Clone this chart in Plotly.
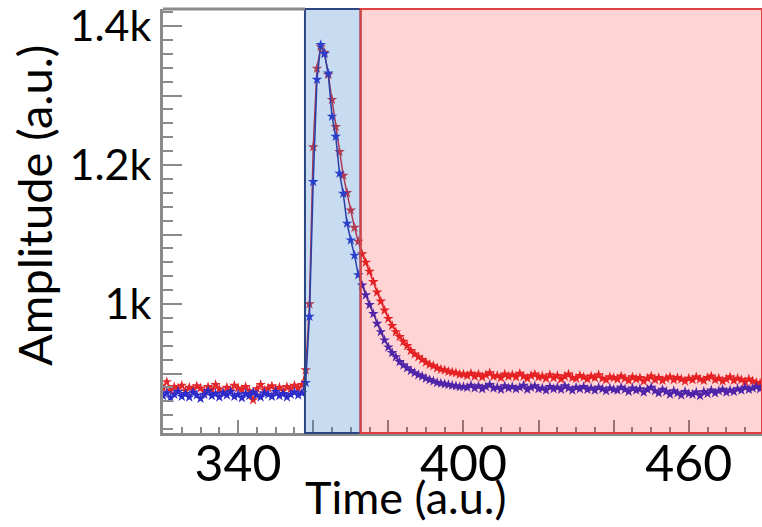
import plotly.graph_objects as go

# Time samples (a.u.)
time = list(range(320, 480))

red_vals = [
    # baseline 320-357
    879, 888, 876, 881, 878, 883, 875, 880, 877, 882, 879, 874, 881, 877, 884, 878, 872, 880, 876, 883,
    879, 877, 881, 875, 862, 878, 884, 876, 879, 882, 877, 880, 875, 881, 878, 883, 879, 884,
    # rise / peak / decay 358-400
    905, 1000, 1226, 1339, 1370, 1362, 1330, 1294, 1255, 1219, 1185, 1160, 1135, 1110, 1090, 1072, 1060,
    1047, 1032, 1017, 1004, 991, 979, 969, 960, 953, 946, 940, 933, 928, 924, 920, 916, 913, 911, 908,
    906, 905, 903, 902, 901, 899, 899,
    # tail 401-479
    897, 900, 896, 899, 895, 898, 901, 896, 897, 894, 899, 896, 898, 895, 900, 896, 893, 897, 899, 895,
    896, 893, 898, 894, 897, 892, 896, 899, 894, 893, 897, 895, 892, 896, 894, 898, 893, 891, 895, 894,
    892, 896, 893, 890, 895, 892, 894, 889, 893, 896, 891, 894, 890, 893, 895, 891, 894, 892, 889, 893,
    891, 895, 892, 890, 894, 896, 891, 893, 889, 892, 895, 890, 893, 891, 888, 892, 889, 887, 886,
]

blue_vals = [
    # baseline 320-357
    868, 872, 865, 870, 874, 867, 871, 866, 873, 869, 864, 870, 875, 868, 871, 866, 872, 869, 874, 867,
    870, 865, 871, 868, 873, 869, 866, 872, 870, 867, 874, 868, 871, 866, 870, 873, 869, 872,
    # rise / peak / decay 358-400
    887, 982, 1176, 1323, 1373, 1360, 1332, 1270, 1241, 1188, 1159, 1116, 1092, 1070, 1042, 1027, 1013,
    999, 986, 972, 960, 948, 938, 930, 924, 917, 912, 908, 904, 901, 898, 896, 893, 891, 889, 887,
    886, 885, 884, 883, 882, 881, 881,
    # tail 401-479
    880, 883, 879, 882, 878, 881, 884, 879, 880, 877, 882, 879, 881, 878, 880, 883, 877, 880, 882, 878,
    879, 876, 881, 878, 880, 877, 882, 879, 876, 880, 878, 881, 877, 879, 876, 880, 878, 875, 879, 877,
    876, 880, 877, 874, 879, 876, 878, 873, 877, 880, 875, 872, 877, 874, 870, 875, 872, 869, 874, 871,
    870, 873, 868, 874, 871, 876, 872, 875, 877, 873, 876, 874, 878, 876, 880, 877, 879, 881, 878,
]

# Shaded time windows
blue_window = [357.8, 372.6]
red_window = [372.6, 479.5]

x_range = [320, 479.5]
y_range = [814.5, 1424.5]

x_major = [340, 360, 380, 400, 420, 440, 460]
x_labels = ["340", "", "", "400", "", "", "460"]
y_major = [900, 1000, 1100, 1200, 1300, 1400]
y_labels = ["", "1k", "", "1.2k", "", "1.4k"]

FONT = "Lato"
AXIS_GRAY = "#8a8a8a"

fig = go.Figure()
fig.add_trace(go.Scatter(
    x=time, y=red_vals, mode="lines+markers",
    line=dict(color="#d8242a", width=1.5),
    marker=dict(symbol="star", size=8, color="#e0282c"),
    showlegend=False,
))
fig.add_trace(go.Scatter(
    x=time, y=blue_vals, mode="lines+markers",
    line=dict(color="#2a2a9a", width=1.5),
    marker=dict(symbol="star", size=8, color="#2c2ccc"),
    showlegend=False,
))

# shaded regions (semi-transparent, on top)
fig.add_shape(type="rect", xref="x", yref="paper",
              x0=blue_window[0], x1=blue_window[1], y0=0, y1=1,
              fillcolor="rgba(40,120,200,0.26)", line=dict(color="#2a4580", width=2),
              layer="above")
fig.add_shape(type="rect", xref="x", yref="paper",
              x0=red_window[0], x1=red_window[1], y0=0, y1=1,
              fillcolor="rgba(255,0,0,0.17)", line=dict(color="#e04040", width=2),
              layer="above")
# top frame over the unshaded part
fig.add_shape(type="line", xref="x", yref="paper",
              x0=x_range[0], x1=blue_window[0], y0=1, y1=1,
              line=dict(color=AXIS_GRAY, width=3), layer="above")

fig.update_xaxes(
    range=x_range, showgrid=False, zeroline=False,
    showline=True, linecolor=AXIS_GRAY, linewidth=3,
    ticks="inside", ticklen=13, tickwidth=2, tickcolor=AXIS_GRAY,
    tickvals=x_major, ticktext=x_labels,
    tickfont=dict(family=FONT, size=50, color="black"),
    ticklabelstandoff=-15, ticklabeloverflow="allow",
    minor=dict(dtick=5, tick0=320, ticks="inside", ticklen=6, tickwidth=1.5, tickcolor=AXIS_GRAY, showgrid=False),
)
fig.update_yaxes(
    range=y_range, showgrid=False, zeroline=False,
    showline=True, linecolor=AXIS_GRAY, linewidth=3,
    ticks="inside", ticklen=19, tickwidth=2, tickcolor=AXIS_GRAY,
    tickvals=y_major, ticktext=y_labels,
    tickfont=dict(family=FONT, size=43, color="black"),
    ticklabeloverflow="allow",
    minor=dict(dtick=20, tick0=800, ticks="inside", ticklen=10, tickwidth=2, tickcolor=AXIS_GRAY, showgrid=False),
)

fig.add_annotation(text="Time (a.u.)", xref="paper", yref="paper",
                   x=(405 - 163) / 599, y=(433 - 497) / 424, xanchor="center", yanchor="middle",
                   showarrow=False, font=dict(family=FONT, size=45, color="black"))
fig.add_annotation(text="Amplitude (a.u.)", xref="paper", yref="paper",
                   x=-(163 - 34) / 599, y=(433 - 206) / 424, xanchor="center", yanchor="middle",
                   textangle=-90, showarrow=False, font=dict(family=FONT, size=47, color="black"))

fig.update_layout(
    width=762, height=527,
    margin=dict(l=163, r=0, t=9, b=94),
    paper_bgcolor="white", plot_bgcolor="white",
)

fig.write_html("out.html")
